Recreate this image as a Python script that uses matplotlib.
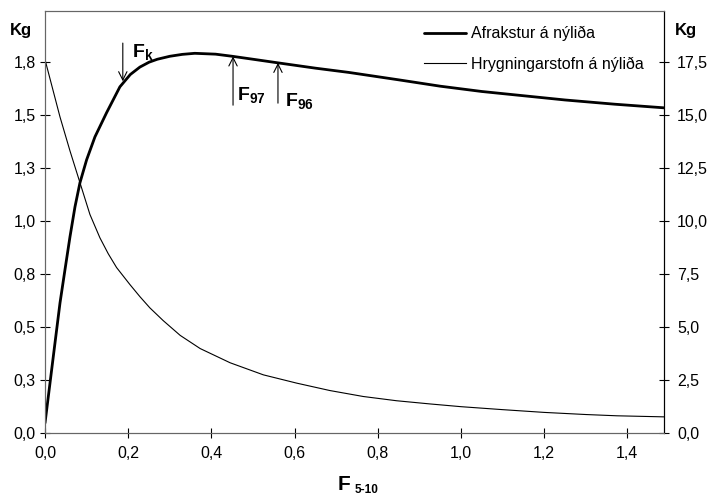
import numpy as np
import matplotlib
matplotlib.use('Agg')
import matplotlib.pyplot as plt

plt.rcParams['font.family'] = ['Liberation Sans', 'DejaVu Sans']
plt.rcParams['mathtext.fontset'] = 'custom'
plt.rcParams['mathtext.rm'] = 'Liberation Sans'
plt.rcParams['mathtext.bf'] = 'Liberation Sans:bold'

# afrakstur a nylida (left axis, kg)
f_yield = [0.0, 0.012, 0.024, 0.036, 0.048, 0.06, 0.072, 0.084, 0.10, 0.12,
           0.148, 0.18, 0.205, 0.228, 0.25, 0.27, 0.30, 0.33, 0.36, 0.41,
           0.45, 0.50, 0.56, 0.65, 0.73, 0.85, 0.95, 1.05, 1.15, 1.25,
           1.37, 1.488]
yield_pr = [0.047, 0.236, 0.425, 0.613, 0.77, 0.925, 1.066, 1.18, 1.288, 1.396,
            1.51, 1.632, 1.69, 1.725, 1.748, 1.762, 1.776, 1.785, 1.79, 1.786,
            1.776, 1.762, 1.745, 1.72, 1.70, 1.665, 1.635, 1.61, 1.59, 1.57,
            1.55, 1.533]

# hrygningarstofn a nylida (right axis, kg)
f_ssb = [0.0, 0.02, 0.036, 0.06, 0.084, 0.108, 0.132, 0.152, 0.172, 0.204,
         0.228, 0.252, 0.284, 0.325, 0.373, 0.445, 0.525, 0.605, 0.685, 0.765,
         0.845, 0.925, 1.0, 1.1, 1.2, 1.3, 1.375, 1.488]
ssb_pr = [17.6, 16.1, 14.9, 13.3, 11.8, 10.3, 9.2, 8.45, 7.8, 7.0,
          6.43, 5.9, 5.3, 4.6, 3.98, 3.31, 2.74, 2.35, 2.0, 1.72,
          1.52, 1.37, 1.24, 1.1, 0.97, 0.87, 0.81, 0.76]

x_ticks = [0.0, 0.2, 0.4, 0.6, 0.8, 1.0, 1.2, 1.4]
x_labels = ['0,0', '0,2', '0,4', '0,6', '0,8', '1,0', '1,2', '1,4']
left_ticks = [0.0, 0.25, 0.5, 0.75, 1.0, 1.25, 1.5, 1.75]
left_labels = ['0,0', '0,3', '0,5', '0,8', '1,0', '1,3', '1,5', '1,8']
right_ticks = [0.0, 2.5, 5.0, 7.5, 10.0, 12.5, 15.0, 17.5]
right_labels = ['0,0', '2,5', '5,0', '7,5', '10,0', '12,5', '15,0', '17,5']

# reference F values marked with arrows
f_k = 0.187
f_97 = 0.452
f_96 = 0.56

fig = plt.figure(figsize=(7.09, 4.95), dpi=100)
ax = fig.add_axes([0.0635, 0.1253, 0.873, 0.8527])
ax2 = ax.twinx()

l1, = ax.plot(f_yield, yield_pr, color='black', lw=2.0, solid_capstyle='round',
              solid_joinstyle='round')
l2, = ax2.plot(f_ssb, ssb_pr, color='black', lw=0.8, solid_joinstyle='round')

ax.set_xlim(0, 1.488)
ax.set_ylim(0, 1.99)
ax2.set_ylim(0, 19.9)

ax.set_xticks(x_ticks)
ax.set_xticklabels(x_labels)
ax.set_yticks(left_ticks)
ax.set_yticklabels(left_labels)
ax2.set_yticks(right_ticks)
ax2.set_yticklabels(right_labels)

for a in (ax, ax2):
    a.tick_params(direction='inout', length=7, width=0.8, labelsize=11.5, colors='black')
    for s in a.spines.values():
        s.set_linewidth(0.8)
ax.tick_params(axis='x', pad=6)
ax.tick_params(axis='y', pad=3)
ax2.tick_params(axis='y', pad=6)
for a in (ax, ax2):
    for side in ('top', 'left', 'bottom'):
        a.spines[side].set_color('#666666')
    a.spines['right'].set_color('black')

fig.text(21 / 709, 1 - 31 / 495, 'Kg', fontsize=12, fontweight='bold', ha='center', va='center')
fig.text(686 / 709, 1 - 31 / 495, 'Kg', fontsize=12, fontweight='bold', ha='center', va='center')

ax.text(0.473, -0.121, 'F', transform=ax.transAxes, fontsize=15, fontweight='bold',
        ha='left', va='center')
ax.text(0.5, -0.135, '5-10', transform=ax.transAxes, fontsize=8.5, fontweight='bold',
        ha='left', va='center')

ax.legend([l1, l2], ['Afrakstur á nýliða', 'Hrygningarstofn á nýliða'],
          loc='upper left', bbox_to_anchor=(424 / 709, 1 - 26 / 495),
          bbox_transform=fig.transFigure, frameon=False, borderpad=0, borderaxespad=0,
          fontsize=11.5, handlelength=2.6, handletextpad=0.35, labelspacing=0.95)

arrow = dict(arrowstyle='->', color='black', lw=0.8, shrinkA=0, shrinkB=0,
             mutation_scale=15)
yk = np.interp(f_k, f_yield, yield_pr)
ax.annotate('', xy=(f_k, yk + 0.01), xytext=(f_k, yk + 0.19), arrowprops=arrow)
ax.text(f_k + 0.022, yk + 0.15, r'$\mathbf{F_k}$', fontsize=14, ha='left', va='center')

y97 = np.interp(f_97, f_yield, yield_pr)
ax.annotate('', xy=(f_97, y97), xytext=(f_97, y97 - 0.23), arrowprops=arrow)
ax.text(f_97 + 0.01, y97 - 0.18, r'$\mathbf{F_{97}}$', fontsize=14, ha='left', va='center')

y96 = np.interp(f_96, f_yield, yield_pr)
ax.annotate('', xy=(f_96, y96), xytext=(f_96, y96 - 0.19), arrowprops=arrow)
ax.text(f_96 + 0.017, y96 - 0.18, r'$\mathbf{F_{96}}$', fontsize=14, ha='left', va='center')

fig.savefig('out.png', dpi=100)
